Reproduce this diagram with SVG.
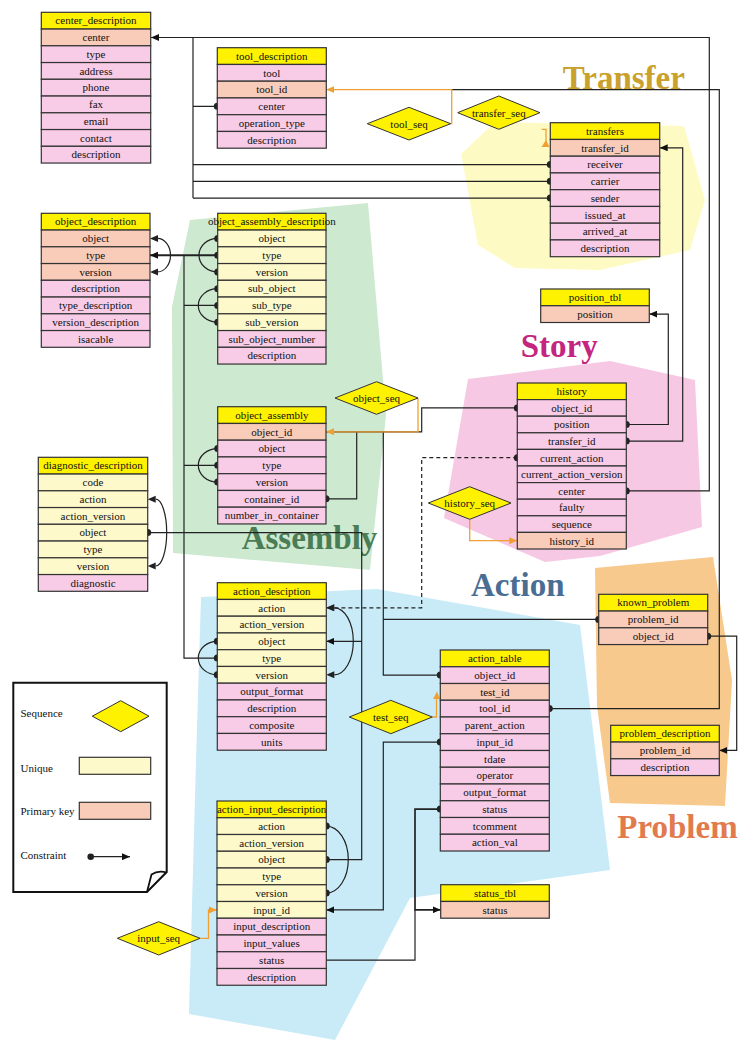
<svg xmlns="http://www.w3.org/2000/svg" width="738" height="1041" viewBox="0 0 738 1041">
<style>
.h{fill:#fff200;stroke:#333;stroke-width:1.2}
.p{fill:#f8cbe6;stroke:#333;stroke-width:1.2}
.k{fill:#f9cbb9;stroke:#333;stroke-width:1.2}
.u{fill:#fdf9cb;stroke:#333;stroke-width:1.2}
text{font-family:"Liberation Serif","Times New Roman",serif;font-size:11px;fill:#111}
.t text{text-anchor:middle}
.big{font-size:33px;font-weight:bold}
.c{fill:none;stroke:#222;stroke-width:1.2}
.o{fill:none;stroke:#f0a030;stroke-width:1.3}
.d{fill:#222}
.seq{fill:#fff200;stroke:#333;stroke-width:1}
</style>
<defs>
<marker id="arr" viewBox="0 0 10 10" refX="10" refY="5" markerWidth="8" markerHeight="7" markerUnits="userSpaceOnUse" orient="auto" preserveAspectRatio="none"><path d="M0,0 L10,5 L0,10 z" fill="#111"/></marker>
<marker id="arro" viewBox="0 0 10 10" refX="10" refY="5" markerWidth="8" markerHeight="7" markerUnits="userSpaceOnUse" orient="auto" preserveAspectRatio="none"><path d="M0,0 L10,5 L0,10 z" fill="#f0a030"/></marker>
</defs>
<rect width="738" height="1041" fill="#fff"/>
<g id="regions">
<polygon points="461,154 495,122 684,126 705,200 690,250 600,270 515,268 478,245" fill="#fdfbc3"/>
<polygon points="468,379 610,361 695,380 702,527 600,556 545,562 444,518" fill="#f6c8e4"/>
<polygon points="190,220 368,203 386,415 370,570 173,553 172,307" fill="#cde9d0"/>
<polygon points="201,597 377,589 580,625 610,870 410,898 335,1040 189,1014 196,760" fill="#c9ebf8"/>
<polygon points="595,568 713,557 732,680 725,806 610,803 597,706" fill="#f8c98c"/>
</g>
<g id="labels">
<text class="big" x="562.7" y="88.5" style="fill:#c9a12c">Transfer</text>
<text class="big" x="520.7" y="357" style="fill:#c4257e">Story</text>
<text class="big" x="241.7" y="548.5" style="fill:#4a7c55">Assembly</text>
<text class="big" x="471" y="596" style="fill:#4a6d94">Action</text>
<text class="big" x="617.3" y="838" style="fill:#e17a4c">Problem</text>
</g>
<g id="connectors">
<path class="c" d="M626.3,490.9 H709.3 V37.5 H151" marker-end="url(#arr)"/>
<path class="c" d="M217.3,106.3 H193 M193,37.5 V198.1 M550.3,164.6 H193 M550.3,181.3 H193 M550.3,198.1 H193"/>
<path class="c" d="M549.3,708.6 H719.3 V89.6 H451"/>
<path class="o" d="M450.7,123.7 H451.7 V89.6 H326.3" marker-end="url(#arro)"/>
<path class="c" d="M626.3,441.1 H682.7 V147.8 H659.7" marker-end="url(#arr)"/>
<path class="c" d="M626.3,424.5 H668.3 V314.1 H649.3" marker-end="url(#arr)"/>
<path class="c" d="M517.3,407.9 H421.7 V431.8 H326"/>
<path class="c" d="M326,498.8 H356.7 V431.8 M440.3,675.1 H383.3 V431.8 M598.7,619.4 H383.3"/>
<path class="o" d="M418,398 V431.8 H326" marker-end="url(#arro)"/>
<path class="c" d="M707.7,636.2 H736.7 V750.4 H719.3" marker-end="url(#arr)"/>
<path class="c" d="M517.3,457.7 H421.7 V607.8 H326.3" stroke-dasharray="4,3" marker-end="url(#arr)"/>
<path class="c" d="M147.7,532.6 H361.7 V859.6 H326.3"/>
<path class="c" d="M361.7,641.3 H326.3" marker-end="url(#arr)"/>
<path class="c" d="M440.3,742.1 H383.3 V909.9 H326.3" marker-end="url(#arr)"/>
<path class="c" d="M440.3,809.1 H415 V909.8 H440.7" style="stroke-width:1.7" marker-end="url(#arr)"/>
<path class="c" d="M326.3,960.1 H415 V909.8"/>
<path class="c" d="M217.7,255.2 H150" style="stroke-width:2" marker-end="url(#arr)"/>
<path class="c" d="M184,255.2 V658.1 H217.3 M184,305.4 H217.7 M184,465.3 H217.7"/>
<path class="o" d="M469.7,519.3 V540.7 H517.3" marker-end="url(#arro)"/>
<path class="o" d="M432.3,717 H436.5 V697"/>
<polygon points="433,699 440,699 437,691.5" fill="#f0a030"/>
<path class="o" d="M541.7,129.3 H546 V142"/>
<polygon points="541.5,147 549.5,147 546,140" fill="#f0a030"/>
<path class="o" d="M200,938.3 H208.5 V909.9 H217" marker-end="url(#arro)"/>
<path class="c" d="M157.5,238.4 A13,16.75 0 0 1 157.5,271.9"/>
<polygon class="d" points="150,238.4 158,234.9 158,241.9"/>
<polygon class="d" points="150,271.9 158,268.4 158,275.4"/>
<path class="c" d="M217.7,238.4 A18.7,16.75 0 0 0 217.7,271.9"/>
<path class="c" d="M217.7,288.7 A19.4,16.75 0 0 0 217.7,322.2"/>
<path class="c" d="M217.7,448.6 A19.4,16.75 0 0 0 217.7,482.1"/>
<path class="c" d="M217.3,641.3 A19,16.75 0 0 0 217.3,674.8"/>
<path class="c" d="M155.7,499.2 A11,33.4 0 0 1 155.7,566"/>
<polygon class="d" points="147.7,499.2 155.7,495.7 155.7,502.7"/>
<polygon class="d" points="147.7,566 155.7,562.5 155.7,569.5"/>
<path class="c" d="M334.3,607.8 A19,33.5 0 0 1 334.3,674.8"/>
<polygon class="d" points="326.3,607.8 334.3,604.3 334.3,611.3"/>
<polygon class="d" points="326.3,674.8 334.3,671.3 334.3,678.3"/>
<path class="c" d="M326.3,826.1 A22,33.5 0 0 1 326.3,893.1"/>
<g class="d">
<circle cx="217.3" cy="106.3" r="3.5"/>
<circle cx="550.3" cy="164.6" r="3.5"/>
<circle cx="550.3" cy="181.3" r="3.5"/>
<circle cx="550.3" cy="198.1" r="3.5"/>
<circle cx="549.3" cy="708.6" r="3.5"/>
<circle cx="626.3" cy="490.9" r="3.5"/>
<circle cx="626.3" cy="441.1" r="3.5"/>
<circle cx="626.3" cy="424.5" r="3.5"/>
<circle cx="517.3" cy="407.9" r="3.5"/>
<circle cx="517.3" cy="457.7" r="3.5"/>
<circle cx="326" cy="498.8" r="3.5"/>
<circle cx="440.3" cy="675.1" r="3.5"/>
<circle cx="598.7" cy="619.4" r="3.5"/>
<circle cx="707.7" cy="636.2" r="3.5"/>
<circle cx="147.7" cy="532.6" r="3.5"/>
<circle cx="326.3" cy="859.6" r="3.5"/>
<circle cx="440.3" cy="742.1" r="3.5"/>
<circle cx="440.3" cy="809.1" r="3.5"/>
<circle cx="217.7" cy="238.4" r="3.5"/>
<circle cx="217.7" cy="255.2" r="3.5"/>
<circle cx="217.7" cy="271.9" r="3.5"/>
<circle cx="217.7" cy="288.7" r="3.5"/>
<circle cx="217.7" cy="305.4" r="3.5"/>
<circle cx="217.7" cy="322.2" r="3.5"/>
<circle cx="217.7" cy="448.6" r="3.5"/>
<circle cx="217.7" cy="465.3" r="3.5"/>
<circle cx="217.7" cy="482.1" r="3.5"/>
<circle cx="217.3" cy="641.3" r="3.5"/>
<circle cx="217.3" cy="658.1" r="3.5"/>
<circle cx="217.3" cy="674.8" r="3.5"/>
<circle cx="326.3" cy="826.1" r="3.5"/>
<circle cx="326.3" cy="893.1" r="3.5"/>
</g>
</g>
<g id="center_description" class="t" transform="translate(41.3,12.3)">
<rect class="h" width="109.4" height="16.75"/><rect class="k" y="16.75" width="109.4" height="16.75"/><rect class="p" y="33.5" width="109.4" height="16.75"/><rect class="p" y="50.25" width="109.4" height="16.75"/><rect class="p" y="67" width="109.4" height="16.75"/><rect class="p" y="83.75" width="109.4" height="16.75"/><rect class="p" y="100.5" width="109.4" height="16.75"/><rect class="p" y="117.25" width="109.4" height="16.75"/><rect class="p" y="134" width="109.4" height="16.75"/>
<text x="54.7" y="12.2">center_description</text><text x="54.7" y="28.95">center</text><text x="54.7" y="45.7">type</text><text x="54.7" y="62.45">address</text><text x="54.7" y="79.2">phone</text><text x="54.7" y="95.95">fax</text><text x="54.7" y="112.7">email</text><text x="54.7" y="129.45">contact</text><text x="54.7" y="146.2">description</text>
</g>
<g id="tool_description" class="t" transform="translate(217.3,47.7)">
<rect class="h" width="109" height="16.75"/><rect class="p" y="16.75" width="109" height="16.75"/><rect class="k" y="33.5" width="109" height="16.75"/><rect class="p" y="50.25" width="109" height="16.75"/><rect class="p" y="67" width="109" height="16.75"/><rect class="p" y="83.75" width="109" height="16.75"/>
<text x="54.5" y="12.2">tool_description</text><text x="54.5" y="28.95">tool</text><text x="54.5" y="45.7">tool_id</text><text x="54.5" y="62.45">center</text><text x="54.5" y="79.2">operation_type</text><text x="54.5" y="95.95">description</text>
</g>
<g id="transfers" class="t" transform="translate(550.3,122.7)">
<rect class="h" width="109.4" height="16.75"/><rect class="k" y="16.75" width="109.4" height="16.75"/><rect class="p" y="33.5" width="109.4" height="16.75"/><rect class="p" y="50.25" width="109.4" height="16.75"/><rect class="p" y="67" width="109.4" height="16.75"/><rect class="p" y="83.75" width="109.4" height="16.75"/><rect class="p" y="100.5" width="109.4" height="16.75"/><rect class="p" y="117.25" width="109.4" height="16.75"/>
<text x="54.7" y="12.2">transfers</text><text x="54.7" y="28.95">transfer_id</text><text x="54.7" y="45.7">receiver</text><text x="54.7" y="62.45">carrier</text><text x="54.7" y="79.2">sender</text><text x="54.7" y="95.95">issued_at</text><text x="54.7" y="112.7">arrived_at</text><text x="54.7" y="129.45">description</text>
</g>
<g id="object_description" class="t" transform="translate(41.3,213.3)">
<rect class="h" width="108.7" height="16.75"/><rect class="k" y="16.75" width="108.7" height="16.75"/><rect class="k" y="33.5" width="108.7" height="16.75"/><rect class="k" y="50.25" width="108.7" height="16.75"/><rect class="p" y="67" width="108.7" height="16.75"/><rect class="p" y="83.75" width="108.7" height="16.75"/><rect class="p" y="100.5" width="108.7" height="16.75"/><rect class="p" y="117.25" width="108.7" height="16.75"/>
<text x="54.35" y="12.2">object_description</text><text x="54.35" y="28.95">object</text><text x="54.35" y="45.7">type</text><text x="54.35" y="62.45">version</text><text x="54.35" y="79.2">description</text><text x="54.35" y="95.95">type_description</text><text x="54.35" y="112.7">version_description</text><text x="54.35" y="129.45">isacable</text>
</g>
<g id="object_assembly_description" class="t" transform="translate(217.7,213.3)">
<rect class="h" width="108.3" height="16.75"/><rect class="u" y="16.75" width="108.3" height="16.75"/><rect class="u" y="33.5" width="108.3" height="16.75"/><rect class="u" y="50.25" width="108.3" height="16.75"/><rect class="u" y="67" width="108.3" height="16.75"/><rect class="u" y="83.75" width="108.3" height="16.75"/><rect class="u" y="100.5" width="108.3" height="16.75"/><rect class="p" y="117.25" width="108.3" height="16.75"/><rect class="p" y="134" width="108.3" height="16.75"/>
<text x="54.15" y="12.2">object_assembly_description</text><text x="54.15" y="28.95">object</text><text x="54.15" y="45.7">type</text><text x="54.15" y="62.45">version</text><text x="54.15" y="79.2">sub_object</text><text x="54.15" y="95.95">sub_type</text><text x="54.15" y="112.7">sub_version</text><text x="54.15" y="129.45">sub_object_number</text><text x="54.15" y="146.2">description</text>
</g>
<g id="position_tbl" class="t" transform="translate(540.7,289)">
<rect class="h" width="108.6" height="16.75"/><rect class="k" y="16.75" width="108.6" height="16.75"/>
<text x="54.3" y="12.2">position_tbl</text><text x="54.3" y="28.95">position</text>
</g>
<g id="history" class="t" transform="translate(517.3,383)">
<rect class="h" width="109" height="16.6"/><rect class="p" y="16.6" width="109" height="16.6"/><rect class="p" y="33.2" width="109" height="16.6"/><rect class="p" y="49.8" width="109" height="16.6"/><rect class="p" y="66.4" width="109" height="16.6"/><rect class="p" y="83" width="109" height="16.6"/><rect class="p" y="99.6" width="109" height="16.6"/><rect class="p" y="116.2" width="109" height="16.6"/><rect class="p" y="132.8" width="109" height="16.6"/><rect class="k" y="149.4" width="109" height="16.6"/>
<text x="54.5" y="12.1">history</text><text x="54.5" y="28.7">object_id</text><text x="54.5" y="45.3">position</text><text x="54.5" y="61.9">transfer_id</text><text x="54.5" y="78.5">current_action</text><text x="54.5" y="95.1">current_action_version</text><text x="54.5" y="111.7">center</text><text x="54.5" y="128.3">faulty</text><text x="54.5" y="144.9">sequence</text><text x="54.5" y="161.5">history_id</text>
</g>
<g id="object_assembly" class="t" transform="translate(217.7,406.7)">
<rect class="h" width="108.3" height="16.75"/><rect class="k" y="16.75" width="108.3" height="16.75"/><rect class="p" y="33.5" width="108.3" height="16.75"/><rect class="p" y="50.25" width="108.3" height="16.75"/><rect class="p" y="67" width="108.3" height="16.75"/><rect class="p" y="83.75" width="108.3" height="16.75"/><rect class="p" y="100.5" width="108.3" height="16.75"/>
<text x="54.15" y="12.2">object_assembly</text><text x="54.15" y="28.95">object_id</text><text x="54.15" y="45.7">object</text><text x="54.15" y="62.45">type</text><text x="54.15" y="79.2">version</text><text x="54.15" y="95.95">container_id</text><text x="54.15" y="112.7">number_in_container</text>
</g>
<g id="diagnostic_description" class="t" transform="translate(38.3,457.3)">
<rect class="h" width="109.4" height="16.75"/><rect class="u" y="16.75" width="109.4" height="16.75"/><rect class="u" y="33.5" width="109.4" height="16.75"/><rect class="u" y="50.25" width="109.4" height="16.75"/><rect class="u" y="67" width="109.4" height="16.75"/><rect class="u" y="83.75" width="109.4" height="16.75"/><rect class="u" y="100.5" width="109.4" height="16.75"/><rect class="p" y="117.25" width="109.4" height="16.75"/>
<text x="54.7" y="12.2">diagnostic_description</text><text x="54.7" y="28.95">code</text><text x="54.7" y="45.7">action</text><text x="54.7" y="62.45">action_version</text><text x="54.7" y="79.2">object</text><text x="54.7" y="95.95">type</text><text x="54.7" y="112.7">version</text><text x="54.7" y="129.45">diagnostic</text>
</g>
<g id="action_desciption" class="t" transform="translate(217.3,582.7)">
<rect class="h" width="109" height="16.75"/><rect class="u" y="16.75" width="109" height="16.75"/><rect class="u" y="33.5" width="109" height="16.75"/><rect class="u" y="50.25" width="109" height="16.75"/><rect class="u" y="67" width="109" height="16.75"/><rect class="u" y="83.75" width="109" height="16.75"/><rect class="p" y="100.5" width="109" height="16.75"/><rect class="p" y="117.25" width="109" height="16.75"/><rect class="p" y="134" width="109" height="16.75"/><rect class="p" y="150.75" width="109" height="16.75"/>
<text x="54.5" y="12.2">action_desciption</text><text x="54.5" y="28.95">action</text><text x="54.5" y="45.7">action_version</text><text x="54.5" y="62.45">object</text><text x="54.5" y="79.2">type</text><text x="54.5" y="95.95">version</text><text x="54.5" y="112.7">output_format</text><text x="54.5" y="129.45">description</text><text x="54.5" y="146.2">composite</text><text x="54.5" y="162.95">units</text>
</g>
<g id="action_table" class="t" transform="translate(440.3,650)">
<rect class="h" width="109" height="16.75"/><rect class="p" y="16.75" width="109" height="16.75"/><rect class="k" y="33.5" width="109" height="16.75"/><rect class="p" y="50.25" width="109" height="16.75"/><rect class="p" y="67" width="109" height="16.75"/><rect class="p" y="83.75" width="109" height="16.75"/><rect class="p" y="100.5" width="109" height="16.75"/><rect class="p" y="117.25" width="109" height="16.75"/><rect class="p" y="134" width="109" height="16.75"/><rect class="p" y="150.75" width="109" height="16.75"/><rect class="p" y="167.5" width="109" height="16.75"/><rect class="p" y="184.25" width="109" height="16.75"/>
<text x="54.5" y="12.2">action_table</text><text x="54.5" y="28.95">object_id</text><text x="54.5" y="45.7">test_id</text><text x="54.5" y="62.45">tool_id</text><text x="54.5" y="79.2">parent_action</text><text x="54.5" y="95.95">input_id</text><text x="54.5" y="112.7">tdate</text><text x="54.5" y="129.45">operator</text><text x="54.5" y="146.2">output_format</text><text x="54.5" y="162.95">status</text><text x="54.5" y="179.7">tcomment</text><text x="54.5" y="196.45">action_val</text>
</g>
<g id="known_problem" class="t" transform="translate(598.7,594.3)">
<rect class="h" width="109" height="16.75"/><rect class="k" y="16.75" width="109" height="16.75"/><rect class="k" y="33.5" width="109" height="16.75"/>
<text x="54.5" y="12.2">known_problem</text><text x="54.5" y="28.95">problem_id</text><text x="54.5" y="45.7">object_id</text>
</g>
<g id="problem_description" class="t" transform="translate(610.7,725.3)">
<rect class="h" width="108.6" height="16.75"/><rect class="k" y="16.75" width="108.6" height="16.75"/><rect class="p" y="33.5" width="108.6" height="16.75"/>
<text x="54.3" y="12.2">problem_description</text><text x="54.3" y="28.95">problem_id</text><text x="54.3" y="45.7">description</text>
</g>
<g id="status_tbl" class="t" transform="translate(440.7,884.7)">
<rect class="h" width="108.6" height="16.75"/><rect class="k" y="16.75" width="108.6" height="16.75"/>
<text x="54.3" y="12.2">status_tbl</text><text x="54.3" y="28.95">status</text>
</g>
<g id="action_input_description" class="t" transform="translate(217,801)">
<rect class="h" width="109.3" height="16.75"/><rect class="u" y="16.75" width="109.3" height="16.75"/><rect class="u" y="33.5" width="109.3" height="16.75"/><rect class="u" y="50.25" width="109.3" height="16.75"/><rect class="u" y="67" width="109.3" height="16.75"/><rect class="u" y="83.75" width="109.3" height="16.75"/><rect class="u" y="100.5" width="109.3" height="16.75"/><rect class="p" y="117.25" width="109.3" height="16.75"/><rect class="p" y="134" width="109.3" height="16.75"/><rect class="p" y="150.75" width="109.3" height="16.75"/><rect class="p" y="167.5" width="109.3" height="16.75"/>
<text x="54.65" y="12.2">action_input_description</text><text x="54.65" y="28.95">action</text><text x="54.65" y="45.7">action_version</text><text x="54.65" y="62.45">object</text><text x="54.65" y="79.2">type</text><text x="54.65" y="95.95">version</text><text x="54.65" y="112.7">input_id</text><text x="54.65" y="129.45">input_description</text><text x="54.65" y="146.2">input_values</text><text x="54.65" y="162.95">status</text><text x="54.65" y="179.7">description</text>
</g>
<g id="tool_seq" class="t"><polygon class="seq" points="367.3,123.7 409,107.3 450.7,123.7 409,140"/><text x="409" y="127.5">tool_seq</text></g>
<g id="transfer_seq" class="t"><polygon class="seq" points="457.7,112.7 498.8,96 540,112.7 498.8,129.3"/><text x="498.8" y="116.5">transfer_seq</text></g>
<g id="object_seq" class="t"><polygon class="seq" points="335,398 376.5,381.7 418,398 376.5,414.3"/><text x="376.5" y="401.8">object_seq</text></g>
<g id="history_seq" class="t"><polygon class="seq" points="428.3,503 469.7,486.7 511,503 469.7,519.3"/><text x="469.7" y="506.8">history_seq</text></g>
<g id="test_seq" class="t"><polygon class="seq" points="349.3,717 390.8,700.3 432.3,717 390.8,733.7"/><text x="390.8" y="720.8">test_seq</text></g>
<g id="input_seq" class="t"><polygon class="seq" points="117.3,938.3 158.7,921.7 200,938.3 158.7,955"/><text x="158.7" y="942.1">input_seq</text></g>
<g id="legend">
<path d="M13.3,682.7 H166.7 V872 L147,892 H13.3 Z" fill="#fff" stroke="#111" stroke-width="2"/>
<path d="M147,892 L151.5,874.5 Q158,870 166.7,872.5" fill="none" stroke="#111" stroke-width="1.8"/>
<text x="20.5" y="717">Sequence</text>
<polygon class="seq" points="92.3,716.2 120.7,700.7 149,716.2 120.7,731.7"/>
<text x="20.5" y="772">Unique</text>
<rect class="u" x="79.3" y="757.3" width="71.4" height="17"/>
<text x="20.5" y="815">Primary key</text>
<rect class="k" x="79.3" y="802.3" width="71.4" height="17"/>
<text x="20.5" y="859">Constraint</text>
<circle class="d" cx="90.7" cy="856.7" r="3.3"/>
<path class="c" d="M90.7,856.7 H130" marker-end="url(#arr)"/>
</g>
</svg>
